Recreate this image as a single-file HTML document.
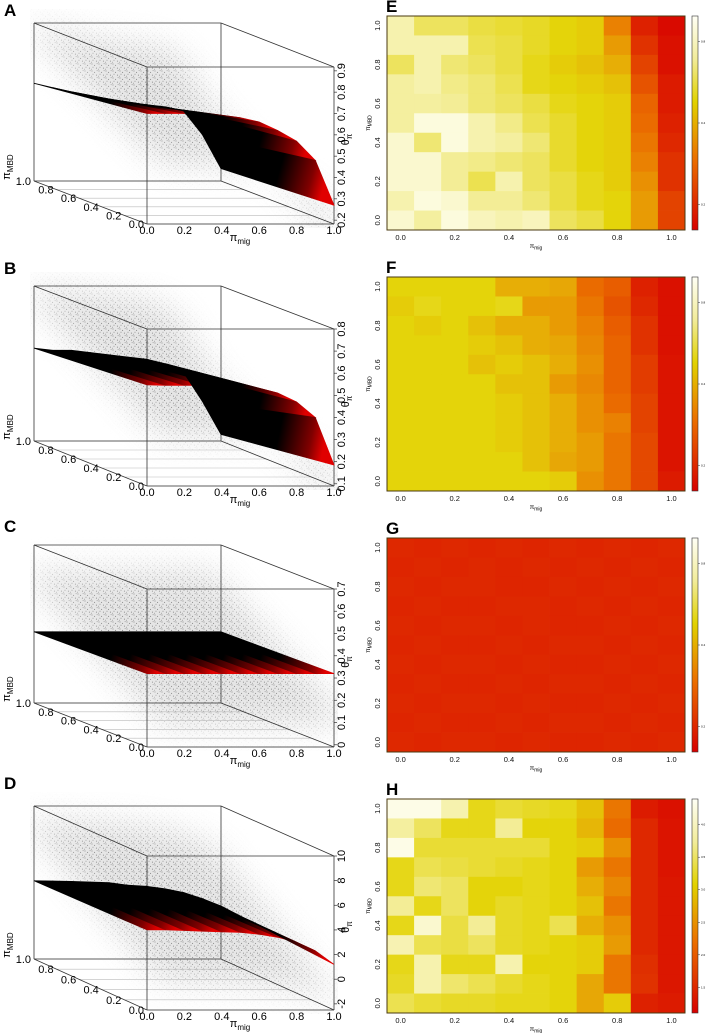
<!DOCTYPE html>
<html><head><meta charset="utf-8"><style>
html,body{margin:0;padding:0;background:#fff;}
svg{display:block;font-family:"Liberation Sans",sans-serif;}
</style></head><body>
<svg id="fig" width="713" height="1033" viewBox="0 0 713 1033" xmlns="http://www.w3.org/2000/svg">
<defs>
<pattern id="dots" width="7" height="7" patternUnits="userSpaceOnUse">
<rect width="7" height="7" fill="#d4d4d4"/>
<circle cx="1" cy="1" r="0.5" fill="#111"/><circle cx="3.6" cy="2.4" r="0.5" fill="#111"/><circle cx="2" cy="4.2" r="0.45" fill="#111"/><circle cx="5.4" cy="5.1" r="0.5" fill="#111"/><circle cx="6.1" cy="0.7" r="0.4" fill="#111"/><circle cx="0.4" cy="6.2" r="0.4" fill="#111"/>
</pattern>
<filter id="blur" x="-30%" y="-30%" width="160%" height="160%"><feGaussianBlur stdDeviation="16"/></filter>
<linearGradient id="cbar" x1="0" y1="1" x2="0" y2="0">
<stop offset="0" stop-color="#d70000"/><stop offset="0.33" stop-color="#eb6e00"/><stop offset="0.6" stop-color="#e1d200"/><stop offset="0.8" stop-color="#f2ec9a"/><stop offset="1" stop-color="#fffff5"/>
</linearGradient>
</defs>
</svg>
<script>
// ---------- heatmap data (rows from pi_MBD=1.0 at top to 0.0 at bottom; 11 columns pi_mig 0..1) ----------
const heatCategories = [0,0.1,0.2,0.3,0.4,0.5,0.6,0.7,0.8,0.9,1.0];
const heatXTicks = ["0.0","0.2","0.4","0.6","0.8","1.0"];
const heatE = [
[.85,.72,.72,.68,.66,.64,.60,.58,.38,.10,.03],
[.85,.85,.85,.70,.68,.64,.60,.58,.45,.15,.05],
[.72,.85,.75,.72,.68,.62,.58,.55,.50,.20,.05],
[.82,.85,.78,.75,.70,.62,.60,.58,.55,.25,.08],
[.82,.82,.80,.75,.72,.68,.62,.60,.58,.30,.08],
[.82,.95,.95,.85,.78,.70,.65,.60,.58,.32,.10],
[.92,.75,.95,.85,.82,.75,.65,.60,.58,.35,.12],
[.92,.92,.80,.78,.75,.72,.65,.60,.58,.38,.15],
[.92,.92,.80,.70,.85,.72,.68,.62,.58,.42,.15],
[.85,.95,.92,.80,.80,.75,.68,.62,.60,.45,.20],
[.92,.82,.95,.88,.85,.88,.72,.68,.60,.45,.20]];
const heatF = [
[.60,.60,.60,.60,.50,.50,.48,.32,.28,.10,.05],
[.58,.62,.60,.60,.62,.45,.45,.35,.25,.12,.05],
[.60,.58,.60,.55,.50,.50,.45,.38,.28,.15,.05],
[.60,.60,.60,.58,.55,.50,.48,.40,.30,.15,.05],
[.60,.60,.60,.55,.58,.55,.50,.42,.30,.18,.06],
[.60,.60,.60,.60,.55,.55,.45,.40,.30,.18,.06],
[.60,.60,.60,.60,.58,.55,.50,.42,.32,.20,.06],
[.60,.60,.60,.60,.58,.55,.50,.42,.38,.20,.06],
[.60,.60,.60,.60,.58,.55,.50,.45,.35,.22,.06],
[.60,.60,.60,.60,.60,.55,.48,.45,.35,.22,.06],
[.60,.60,.60,.60,.60,.60,.58,.42,.35,.22,.08]];
const heatG = [
[.12,.11,.12,.11,.12,.11,.12,.11,.12,.11,.12],
[.11,.12,.11,.12,.11,.12,.11,.12,.11,.12,.11],
[.12,.11,.12,.12,.11,.11,.12,.11,.12,.11,.12],
[.11,.12,.11,.11,.12,.12,.11,.12,.11,.12,.11],
[.12,.11,.12,.12,.11,.12,.11,.11,.12,.11,.12],
[.11,.12,.11,.11,.12,.11,.12,.12,.11,.12,.11],
[.12,.11,.12,.12,.11,.12,.11,.11,.12,.11,.12],
[.11,.12,.11,.11,.12,.11,.12,.12,.11,.12,.11],
[.12,.11,.12,.12,.11,.12,.11,.11,.12,.11,.12],
[.11,.12,.11,.11,.12,.11,.12,.12,.11,.12,.11],
[.12,.11,.12,.12,.11,.12,.11,.11,.12,.11,.12]];
const heatH = [
[.97,.97,.85,.62,.66,.64,.62,.55,.35,.08,.05],
[.82,.72,.62,.62,.80,.60,.60,.52,.32,.12,.06],
[.97,.66,.66,.66,.66,.66,.60,.58,.42,.12,.06],
[.62,.70,.68,.66,.64,.62,.60,.45,.35,.12,.06],
[.62,.75,.72,.60,.60,.62,.60,.50,.40,.12,.07],
[.80,.62,.72,.60,.64,.62,.60,.55,.35,.12,.07],
[.62,.92,.68,.80,.64,.62,.70,.50,.42,.12,.07],
[.86,.70,.68,.72,.64,.62,.60,.58,.45,.12,.07],
[.62,.85,.62,.62,.85,.60,.60,.58,.35,.14,.07],
[.64,.85,.74,.70,.65,.62,.60,.48,.35,.15,.07],
[.70,.66,.64,.64,.62,.62,.60,.48,.58,.10,.08]];
const cbarTicksEFG = ["0.8","0.4","0.2"];
const cbarTicksH = ["4.0","3.5","3.0","2.5","2.0","1.5"];

// ---------- 3D surface data: theta along pi_mig at pi_MBD=0 (front) and pi_MBD=1 (back) ----------
const migGrid = [0,0.1,0.2,0.3,0.4,0.5,0.6,0.7,0.8,0.9,1.0];
const frontA = [.70,.70,.70,.70,.69,.68,.66,.62,.57,.48,.27];
const backA  = [.64,.62,.60,.58,.56,.55,.54,.53,.51,.40,.24];
const frontB = [.547,.545,.545,.545,.542,.54,.53,.51,.47,.40,.185];
const backB  = [.51,.50,.50,.49,.48,.47,.46,.44,.40,.27,.12];
const frontC = [.32,.32,.32,.32,.32,.32,.32,.32,.32,.32,.32];
const backC  = [.31,.31,.31,.31,.31,.31,.31,.31,.31,.31,.31];
const frontD = [4.0,4.0,3.95,3.9,3.85,3.8,3.65,3.4,3.0,2.3,1.2];
const backD  = [3.85,3.83,3.8,3.75,3.7,3.5,3.4,3.2,2.9,2.4,1.8];
const ticksA = [0.2,0.3,0.4,0.5,0.6,0.7,0.8,0.9];
const ticksB = [0.1,0.2,0.3,0.4,0.5,0.6,0.7,0.8];
const ticksC = [0.0,0.1,0.2,0.3,0.4,0.5,0.6,0.7];
const ticksD = [-2,0,2,4,6,8,10];
const floorTicks = [0,0.2,0.4,0.6,0.8,1.0];

const NS = "http://www.w3.org/2000/svg";
const svg = document.getElementById('fig');
function mk(tag, attrs, parent, text){
  const e = document.createElementNS(NS, tag);
  for (const k in attrs) e.setAttribute(k, attrs[k]);
  if (text !== undefined) e.textContent = text;
  (parent || svg).appendChild(e);
  return e;
}
function lerp(a,b,t){return a+(b-a)*t;}
function heat(v){
  const st=[[0,[215,0,0]],[0.33,[235,110,0]],[0.6,[228,212,10]],[0.8,[243,237,150]],[1,[255,255,245]]];
  v=Math.max(0,Math.min(1,v));
  for(let i=0;i<st.length-1;i++){
    if(v<=st[i+1][0]){const t=(v-st[i][0])/(st[i+1][0]-st[i][0]);
      const c=st[i][1].map((x,j)=>Math.round(lerp(x,st[i+1][1][j],t)));return `rgb(${c})`;}
  }
  return 'rgb(255,255,245)';
}

// ---------- heatmaps ----------
function heatmap(letter, data, top, cticks){
  const L=387,R=685,T=top,B=top+214;
  const g = mk('g',{});
  
  
  const lab = mk('text',{x:386,y:top-4,'font-size':17,'font-weight':'bold'},g,letter);
  
  
  const n=heatCategories.length;
  const xs=v=>L+(v-heatCategories[0])/(heatCategories[n-1]-heatCategories[0])*(R-L)*(n-1)/n+(R-L)/n/2;
  const cw=(R-L)/n, ch=(B-T)/n;
  data.forEach((row,ri)=>{row.forEach((v,ci)=>{
    const r=mk('rect',{x:(xs(heatCategories[ci])-cw/2).toFixed(2),y:(T+ri*ch).toFixed(2),width:(cw+0.4).toFixed(2),height:(ch+0.4).toFixed(2),fill:heat(v)},g);
    
    
  });});
  const fr=mk('rect',{x:L,y:T,width:R-L,height:B-T,fill:'none',stroke:'#4a3a10','stroke-width':1},g);
  
  
  heatXTicks.forEach(t=>{
    const tx=mk('text',{x:xs(parseFloat(t)),y:B+10,'font-size':7.5,'text-anchor':'middle',fill:'#111'},g,t);
    
    
    const ty=mk('text',{x:0,y:0,'font-size':7.5,'text-anchor':'middle',fill:'#111',transform:`translate(380,${(B-ch/2-parseFloat(t)*(B-T-ch)).toFixed(1)}) rotate(-90)`},g,t);
    
    
  });
  const xt=mk('text',{x:536,y:B+18,'font-size':6.5,'text-anchor':'middle'},g);
  
  
  mk('tspan',{},xt,'π');mk('tspan',{'font-size':5,dy:1.5},xt,'mig');
  const yt=mk('text',{x:0,y:0,'font-size':6.5,'text-anchor':'middle',transform:`translate(370,${(T+B)/2}) rotate(-90)`},g);
  
  
  mk('tspan',{},yt,'π');mk('tspan',{'font-size':5,dy:1.5},yt,'MBD');
  const cb=mk('rect',{x:692,y:T,width:6,height:B-T,fill:'url(#cbar)',stroke:'#333','stroke-width':0.6},g);
  
  
  cticks.forEach((t,i)=>{
    const y=T+(B-T)*(0.12+i*0.76/(cticks.length-1));
    mk('line',{x1:698,x2:700,y1:y,y2:y,stroke:'#333','stroke-width':0.5},g);
    const c=mk('text',{x:701,y:y+1,'font-size':3},g,t);
    
    
  });
}
heatmap('E',heatE,16,cbarTicksEFG);
heatmap('F',heatF,277,cbarTicksEFG);
heatmap('G',heatG,538,cbarTicksEFG);
heatmap('H',heatH,799,cbarTicksH);

// ---------- 3D panels ----------
function panel3d(letter, oy, cfg, front, back, ticks){
  const g=mk('g',{transform:`translate(0,${oy})`});
  
  
  const {bt,ft,bb,fb,zlo,zhi}=cfg;
  const P=(m,b,z)=>[147-113*b+187*m, fb-(fb-bb)*b-(z-zlo)/(zhi-zlo)*(fb-ft)];
  const lab=mk('text',{x:4,y:16,'font-size':17,'font-weight':'bold'},g,letter);
  
  
  // scatter cloud
  const mid='cl'+letter;
  const mask=mk('mask',{id:mid},g);
  const up=migGrid.map((m,i)=>P(m,1,back[i])).map(p=>[p[0]-10,p[1]-60]);
  const dn=migGrid.map((m,i)=>P(m,0,front[i])).map(p=>[p[0]+15,p[1]+50]).reverse();
  mk('polygon',{points:up.concat(dn).map(p=>p.join(',')).join(' '),fill:'#fff',filter:'url(#blur)'},mask);
  const cloud=mk('rect',{x:30,y:bt-14,width:308,height:fb-bt+18,fill:'url(#dots)',mask:`url(#${mid})`,opacity:0.6},g);
  
  
  // floor grid
  floorTicks.forEach(b=>{
    const a=P(0,b,zlo),c=P(1,b,zlo);
    mk('line',{x1:a[0],y1:a[1],x2:c[0],y2:c[1],stroke:'#bbb','stroke-width':0.6},g);
  });
  // box
  const box=[[[34,bt],[221,bt]],[[221,bt],[221,bb]],[[34,bt],[34,bb]],[[34,bb],[221,bb]],[[34,bt],[147,ft]],[[221,bt],[334,ft]],[[221,bb],[334,fb]],[[34,bb],[147,fb]],
             [[147,ft],[334,ft]],[[147,fb],[334,fb]],[[147,ft],[147,fb]],[[334,ft],[334,fb]]];
  box.forEach(s=>{mk('line',{x1:s[0][0],y1:s[0][1],x2:s[1][0],y2:s[1][1],stroke:'#333','stroke-width':0.8},g);});
  // surface strips
  for(let i=0;i<migGrid.length-1;i++){
    const b0=P(migGrid[i],1,back[i]),b1=P(migGrid[i+1],1,back[i+1]);
    const f0=P(migGrid[i],0,front[i]),f1=P(migGrid[i+1],0,front[i+1]);
    const gid=`sg${letter}${i}`;
    const lg=mk('linearGradient',{id:gid,gradientUnits:'userSpaceOnUse',x1:(b0[0]+b1[0])/2,y1:(b0[1]+b1[1])/2,x2:(f0[0]+f1[0])/2,y2:(f0[1]+f1[1])/2},g);
    mk('stop',{offset:0,'stop-color':'#000'},lg);
    mk('stop',{offset:0.6,'stop-color':'#000'},lg);
    mk('stop',{offset:0.88,'stop-color':'#800000'},lg);
    mk('stop',{offset:1,'stop-color':'#e00000'},lg);
    const poly=mk('polygon',{points:[b0,b1,f1,f0].map(p=>p.map(v=>v.toFixed(1)).join(',')).join(' '),fill:`url(#${gid})`,stroke:`url(#${gid})`,'stroke-width':0.8},g);
    
    
  }
  // mig ticks
  floorTicks.forEach(m=>{
    const p=P(m,0,zlo);
    const t=mk('text',{x:p[0],y:p[1]+10,'font-size':11,'text-anchor':'middle'},g,m.toFixed(1));
    
    
    const q=P(0,m,zlo);
    const u=mk('text',{x:q[0]-3,y:q[1]+4,'font-size':11,'text-anchor':'end'},g,m.toFixed(1));
    
    
  });
  // theta ticks
  ticks.forEach(z=>{
    const p=P(1,0,z);
    mk('line',{x1:334,x2:337,y1:p[1],y2:p[1],stroke:'#333','stroke-width':0.7},g);
    const t=mk('text',{x:0,y:0,'font-size':11,'text-anchor':'middle',transform:`translate(345,${p[1].toFixed(1)}) rotate(-90)`},g,String(z));
    
    
  });
  const xt=mk('text',{x:240,y:fb+17,'font-size':11,'text-anchor':'middle'},g);
  
  
  mk('tspan',{},xt,'π');mk('tspan',{'font-size':8,dy:3},xt,'mig');
  const yt=mk('text',{x:0,y:0,'font-size':11,'text-anchor':'middle',transform:`translate(10,${bb-14}) rotate(-90)`},g);
  
  
  mk('tspan',{},yt,'π');mk('tspan',{'font-size':8,dy:3},yt,'MBD');
  const zt=mk('text',{x:0,y:0,'font-size':11,'text-anchor':'middle',transform:`translate(349,${(ft+fb)/2-6}) rotate(-90)`},g);
  
  
  mk('tspan',{},zt,'θ');mk('tspan',{'font-size':8,dy:3},zt,'π');
}
panel3d('A',0,{bt:23,ft:67,bb:181,fb:224,zlo:0.182,zhi:0.918},frontA,backA,ticksA);
panel3d('B',258,{bt:28,ft:71,bb:183,fb:228,zlo:0.09,zhi:0.80},frontB,backB,ticksB);
panel3d('C',516,{bt:29,ft:73,bb:187,fb:231,zlo:-0.01,zhi:0.70},frontC,backC,ticksC);
panel3d('D',773,{bt:33,ft:83,bb:186,fb:237,zlo:-2.5,zhi:10},frontD,backD,ticksD);
</script>
</body></html>
